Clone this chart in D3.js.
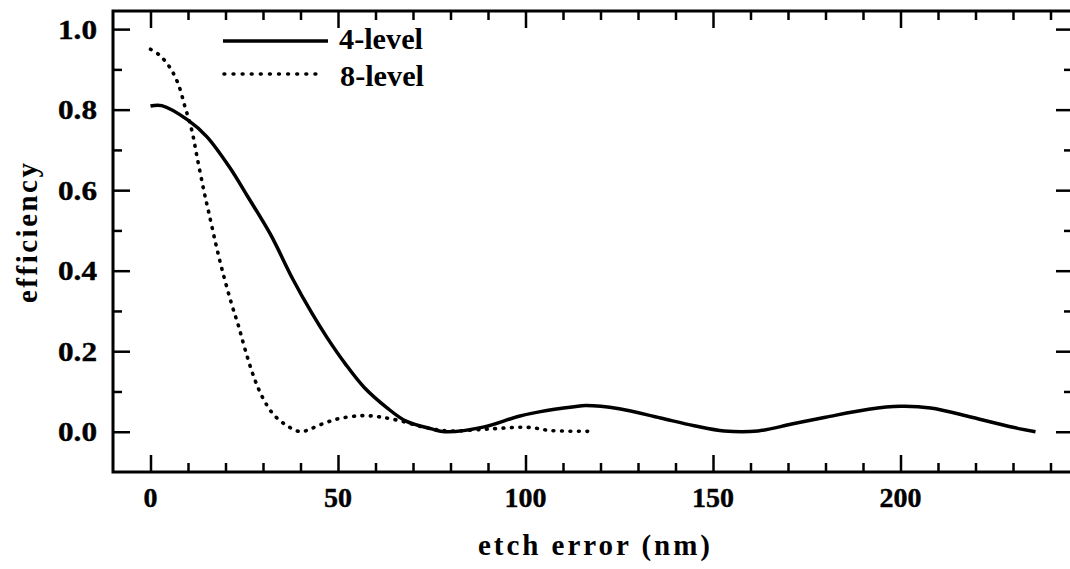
<!DOCTYPE html>
<html>
<head>
<meta charset="utf-8">
<script src="https://cdn.jsdelivr.net/npm/d3@7"></script>
<style>
  html, body { margin: 0; padding: 0; background: #fff; }
  svg { display: block; }
</style>
</head>
<body>
<svg id="chart" width="1070" height="569"></svg>
<script>
// ---- data ----
const seriesNames = ["4-level", "8-level"];
const etch4 = [0, 3, 10, 15, 21, 26, 32, 38, 43, 47, 52, 57, 63, 68, 75, 78.5, 89, 98, 104, 113, 116, 125, 136, 145, 153, 162, 171, 180, 191.5, 200, 208, 219, 230, 236];
const eff4  = [0.809, 0.81, 0.774, 0.733, 0.658, 0.583, 0.490, 0.378, 0.295, 0.235, 0.168, 0.110, 0.060, 0.027, 0.007, 0.0, 0.012, 0.038, 0.050, 0.062, 0.065, 0.057, 0.034, 0.015, 0.002, 0.002, 0.019, 0.036, 0.056, 0.063, 0.059, 0.036, 0.011, 0.0];
const etch8 = [0, 2.3, 5, 7.3, 9.2, 11, 12.4, 14.2, 15.6, 17.4, 19.3, 21.6, 23.4, 25.3, 27.6, 29.9, 32.7, 36.4, 40.1, 42.6, 46.3, 50, 56.4, 61, 66.6, 73, 79.4, 90.5, 100.6, 106.7, 118];
const eff8  = [0.95, 0.936, 0.907, 0.866, 0.807, 0.749, 0.683, 0.600, 0.542, 0.467, 0.395, 0.318, 0.265, 0.202, 0.135, 0.085, 0.044, 0.015, 0.0, 0.007, 0.021, 0.032, 0.040, 0.037, 0.027, 0.011, 0.002, 0.007, 0.011, 0.003, 0.001];
const xMajorTicks = [0, 50, 100, 150, 200];
const xMinorTicks = [10, 20, 30, 40, 60, 70, 80, 90, 110, 120, 130, 140, 160, 170, 180, 190, 210, 220, 230, 240];
const yMajorTicks = [0.0, 0.2, 0.4, 0.6, 0.8, 1.0];
const yMinorTicks = [0.1, 0.3, 0.5, 0.7, 0.9];
const xTitle = "etch error (nm)";
const yTitle = "efficiency";

// ---- layout ----
const svg = d3.select("#chart");
const L = 113, R = 1073, T = 11, B = 472;
const x = d3.scaleLinear().domain([-10, 246]).range([L, R]);
const y = d3.scaleLinear().domain([-0.1, 1.045]).range([B, T]);
const font = "'Liberation Serif', 'Times New Roman', serif";

svg.append("rect").attr("width", 1070).attr("height", 569).attr("fill", "#fff");

// frame
svg.append("rect")
  .attr("x", L).attr("y", T).attr("width", R - L).attr("height", B - T)
  .attr("fill", "none").attr("stroke", "#000").attr("stroke-width", 3);

const fmt = d3.format(".1f");
const MAJ = 17, MIN = 9;

const gB = svg.append("g").attr("transform", `translate(0,${B})`)
  .call(d3.axisTop(x).tickValues(xMajorTicks).tickSize(MAJ).tickFormat(""));
const gBm = svg.append("g").attr("transform", `translate(0,${B})`)
  .call(d3.axisTop(x).tickValues(xMinorTicks).tickSize(MIN).tickFormat(""));
const gT = svg.append("g").attr("transform", `translate(0,${T})`)
  .call(d3.axisBottom(x).tickValues(xMajorTicks).tickSize(MAJ).tickFormat(""));
const gTm = svg.append("g").attr("transform", `translate(0,${T})`)
  .call(d3.axisBottom(x).tickValues(xMinorTicks).tickSize(MIN).tickFormat(""));
const gL = svg.append("g").attr("transform", `translate(${L},0)`)
  .call(d3.axisRight(y).tickValues(yMajorTicks).tickSize(MAJ).tickFormat(""));
const gLm = svg.append("g").attr("transform", `translate(${L},0)`)
  .call(d3.axisRight(y).tickValues(yMinorTicks).tickSize(MIN).tickFormat(""));
const gR = svg.append("g").attr("transform", `translate(${R},0)`)
  .call(d3.axisLeft(y).tickValues(yMajorTicks).tickSize(MAJ).tickFormat(""));
const gRm = svg.append("g").attr("transform", `translate(${R},0)`)
  .call(d3.axisLeft(y).tickValues(yMinorTicks).tickSize(MIN).tickFormat(""));

[gB, gBm, gT, gTm, gL, gLm, gR, gRm].forEach(g => {
  g.select(".domain").remove();
  g.selectAll(".tick line").attr("stroke", "#000").attr("stroke-width", 2.5);
});

// tick labels
svg.append("g").selectAll("text").data(xMajorTicks).join("text")
  .attr("x", d => x(d)).attr("y", 507)
  .attr("text-anchor", "middle")
  .attr("font-family", font).attr("font-weight", "bold").attr("font-size", 28)
  .attr("stroke", "#000").attr("stroke-width", 0.4)
  .text(d => d);
svg.append("g").selectAll("text").data(yMajorTicks).join("text")
  .attr("x", 97).attr("y", d => y(d) + 9.5)
  .attr("text-anchor", "end")
  .attr("font-family", font).attr("font-weight", "bold").attr("font-size", 28)
  .attr("stroke", "#000").attr("stroke-width", 0.4)
  .attr("textLength", 39).attr("lengthAdjust", "spacingAndGlyphs")
  .text(d => fmt(d));

// axis titles
svg.append("text")
  .attr("x", 478).attr("y", 555)
  .attr("font-family", font).attr("font-size", 29).attr("font-weight", "bold")
  .attr("textLength", 232).attr("lengthAdjust", "spacing")
  .text(xTitle);
svg.append("text")
  .attr("transform", "translate(37,303) rotate(-90)")
  .attr("font-family", font).attr("font-size", 29).attr("font-weight", "bold")
  .attr("textLength", 140).attr("lengthAdjust", "spacing")
  .text(yTitle);

// lines
const line = d3.line().x(d => x(d[0])).y(d => y(d[1])).curve(d3.curveCatmullRom.alpha(0.5));
const data4 = etch4.map((e, i) => [e, eff4[i]]);
const data8 = etch8.map((e, i) => [e, eff8[i]]);

svg.append("path").datum(data4).attr("d", line)
  .attr("fill", "none").attr("stroke", "#000").attr("stroke-width", 3.5)
  .attr("stroke-linejoin", "round");
svg.append("path").datum(data8).attr("d", line)
  .attr("fill", "none").attr("stroke", "#000").attr("stroke-width", 3.6)
  .attr("stroke-dasharray", "0.8,7.6").attr("stroke-linecap", "round");

// legend
const legend = svg.append("g");
legend.append("line").attr("x1", 223).attr("x2", 328).attr("y1", 41).attr("y2", 41)
  .attr("stroke", "#000").attr("stroke-width", 3.5);
legend.append("line").attr("x1", 224).attr("x2", 316).attr("y1", 74).attr("y2", 74)
  .attr("stroke", "#000").attr("stroke-width", 3.6)
  .attr("stroke-dasharray", "0.8,8.3").attr("stroke-linecap", "round");
legend.append("text").attr("x", 339).attr("y", 49)
  .attr("font-family", font).attr("font-weight", "bold").attr("font-size", 29)
  .attr("textLength", 84).attr("lengthAdjust", "spacingAndGlyphs")
  .text(seriesNames[0]);
legend.append("text").attr("x", 340).attr("y", 86)
  .attr("font-family", font).attr("font-weight", "bold").attr("font-size", 29)
  .attr("textLength", 84).attr("lengthAdjust", "spacingAndGlyphs")
  .text(seriesNames[1]);
</script>
</body>
</html>
